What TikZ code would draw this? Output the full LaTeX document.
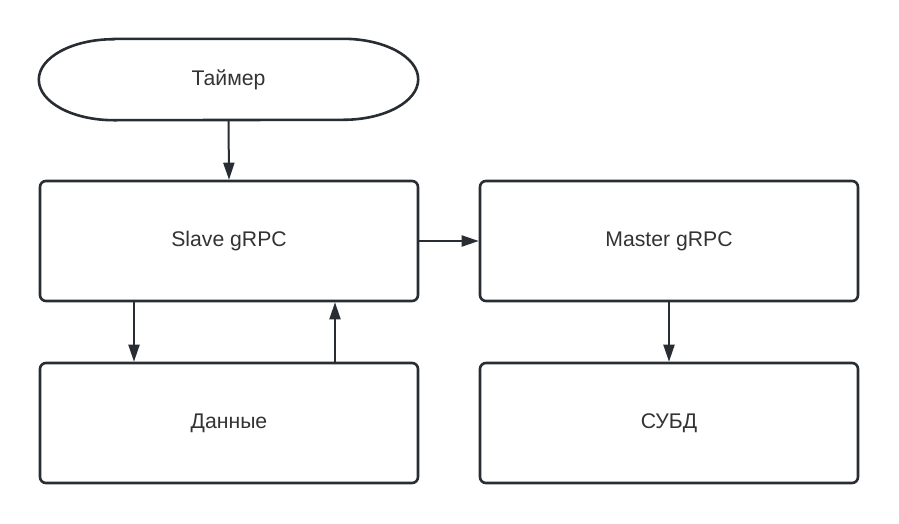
\documentclass[tikz,border=0pt]{standalone}
\usepackage{fontspec}
\setmainfont{Liberation Sans}
\usetikzlibrary{arrows.meta}
\definecolor{ln}{HTML}{282C33}
\definecolor{tx}{HTML}{333333}
\tikzset{
  box/.style={draw=ln, line width=2.6pt, rounded corners=6pt, minimum width=378pt, minimum height=120pt, text=tx, font=\fontsize{21.2}{25}\selectfont, inner sep=0pt},
  term/.style={minimum width=379pt, minimum height=81pt, text=tx, font=\fontsize{21.2}{25}\selectfont, inner sep=0pt},
  shapeline/.style={draw=ln, line width=2.6pt},
  arr/.style={draw=ln, line width=2pt, -{Triangle[length=17pt,width=11pt]}}
}
\begin{document}
\begin{tikzpicture}[x=1pt,y=-1pt]
\useasboundingbox (0,0) rectangle (899,523);
\node[term] (t) at (228.5,79.5) {Таймер};
\draw[shapeline] ([xshift=75pt]t.north west) -- ([xshift=-75pt]t.north east)
  arc[start angle=90, end angle=-90, x radius=75pt, y radius=40.5pt]
  -- ([xshift=75pt]t.south west)
  arc[start angle=270, end angle=90, x radius=75pt, y radius=40.5pt] -- cycle;
\node[box] (s) at (229,241) {Slave gRPC};
\node[box] (m) at (669,241) {Master gRPC};
\node[box] (d) at (229,423) {Данные};
\node[box] (c) at (669,423) {СУБД};
\draw[arr] (t.south) -- (s.north);
\draw[arr] (s.east) -- (m.west);
\draw[arr] ([xshift=-95pt]s.south) -- ([xshift=-95pt]d.north);
\draw[arr] ([xshift=106pt]d.north) -- ([xshift=106pt]s.south);
\draw[arr] (m.south) -- (c.north);
\end{tikzpicture}
\end{document}
